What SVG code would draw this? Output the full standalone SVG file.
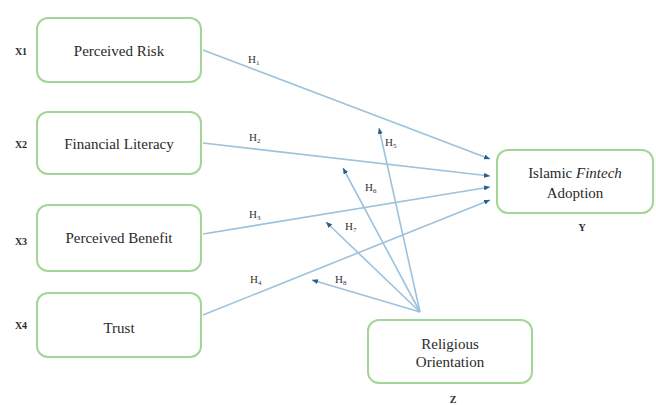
<svg xmlns="http://www.w3.org/2000/svg" width="656" height="405" viewBox="0 0 656 405">
<style>
.box{fill:#ffffff;stroke:#a3d596;stroke-width:2}
.t{font-family:"Liberation Serif","Times New Roman",serif;font-size:15px;fill:#2a2a2a;text-anchor:middle}
.lab{font-family:"Liberation Serif","Times New Roman",serif;font-size:10px;fill:#2a2a2a;text-anchor:middle;font-weight:bold}
.h{font-family:"Liberation Serif","Times New Roman",serif;font-size:11px;fill:#333333}
.sub{font-size:7px}
.ln{stroke:#9dc2dc;stroke-width:1.6;fill:none;marker-end:url(#ah)}
</style>
<defs>
<marker id="ah" markerUnits="userSpaceOnUse" markerWidth="6" markerHeight="5" refX="6" refY="2.5" orient="auto">
<path d="M0,0 L6,2.5 L0,5 z" fill="#2d5c86"/>
</marker>
</defs>
<rect width="656" height="405" fill="#ffffff"/>
<g id="connectors">
<line class="ln" x1="203" y1="50" x2="490" y2="159"/>
<line class="ln" x1="203" y1="143" x2="490" y2="176"/>
<line class="ln" x1="203" y1="234" x2="490" y2="187"/>
<line class="ln" x1="203" y1="315" x2="490" y2="200"/>
<line class="ln" x1="420" y1="312" x2="379" y2="128"/>
<line class="ln" x1="420" y1="312" x2="343" y2="168"/>
<line class="ln" x1="420" y1="312" x2="326" y2="222"/>
<line class="ln" x1="420" y1="312" x2="312" y2="280"/>
<text class="h" x="248" y="63">H<tspan class="sub" dy="2">1</tspan></text>
<text class="h" x="249" y="141">H<tspan class="sub" dy="2">2</tspan></text>
<text class="h" x="249" y="218">H<tspan class="sub" dy="2">3</tspan></text>
<text class="h" x="250" y="283">H<tspan class="sub" dy="2">4</tspan></text>
<text class="h" x="385" y="146">H<tspan class="sub" dy="2">5</tspan></text>
<text class="h" x="365" y="191">H<tspan class="sub" dy="2">6</tspan></text>
<text class="h" x="345" y="230">H<tspan class="sub" dy="2">7</tspan></text>
<text class="h" x="335" y="283">H<tspan class="sub" dy="2">8</tspan></text>
</g>
<g id="n1">
<rect class="box" x="37" y="18" width="164" height="64" rx="11"/>
<text class="t" x="119" y="56">Perceived Risk</text>
<text class="lab" x="21" y="55">X1</text>
</g>
<g id="n2">
<rect class="box" x="37" y="112" width="164" height="62" rx="11"/>
<text class="t" x="119" y="149">Financial Literacy</text>
<text class="lab" x="21" y="148">X2</text>
</g>
<g id="n3">
<rect class="box" x="37" y="205" width="164" height="66" rx="11"/>
<text class="t" x="119" y="243">Perceived Benefit</text>
<text class="lab" x="21" y="245">X3</text>
</g>
<g id="n4">
<rect class="box" x="37" y="293" width="164" height="64" rx="11"/>
<text class="t" x="119" y="333">Trust</text>
<text class="lab" x="21" y="329">X4</text>
</g>
<g id="y">
<rect class="box" x="497" y="150" width="156" height="63" rx="11"/>
<text class="t" x="575" y="178">Islamic <tspan font-style="italic">Fintech</tspan></text>
<text class="t" x="575" y="198">Adoption</text>
<text class="lab" x="582" y="231">Y</text>
</g>
<g id="z">
<rect class="box" x="368" y="320" width="164" height="63" rx="11"/>
<text class="t" x="450" y="349">Religious</text>
<text class="t" x="450" y="367">Orientation</text>
<text class="lab" x="453" y="403">Z</text>
</g>
</svg>
